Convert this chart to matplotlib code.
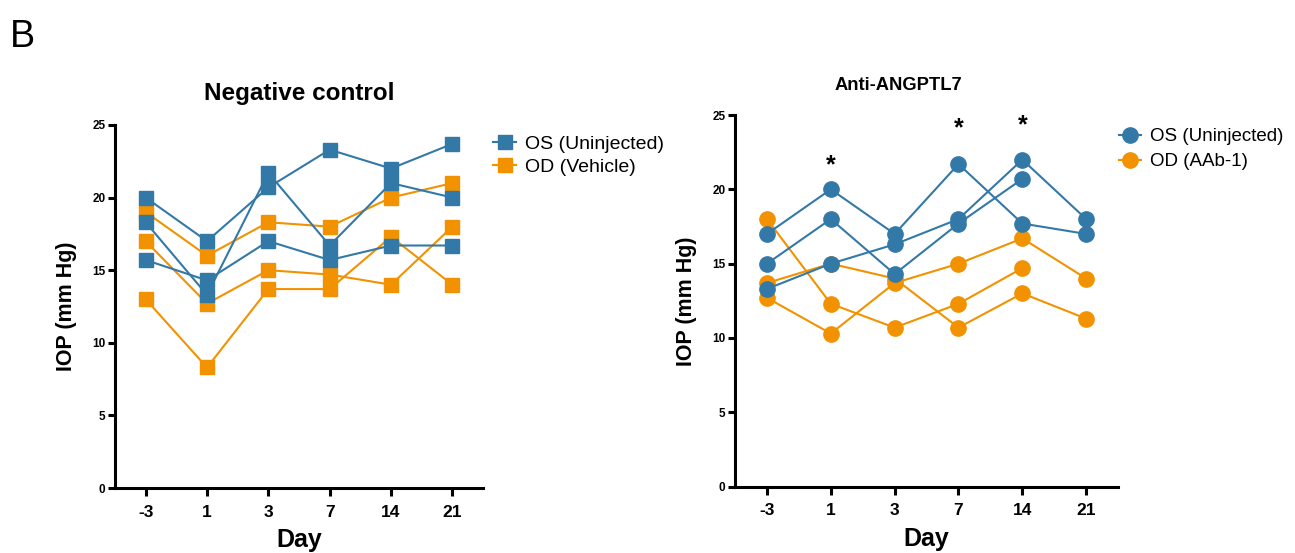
import numpy as np
import matplotlib
matplotlib.use('Agg')
import matplotlib.pyplot as plt

plt.rcParams['font.family'] = ['Liberation Sans', 'DejaVu Sans']

days = ['-3', '1', '3', '7', '14', '21']

# Negative control: each list is one eye / animal
neg_os = [[20.0, 17.0, 20.7, 23.3, 22.0, 23.7],
          [18.3, 13.3, 21.7, 16.7, 21.0, 20.0],
          [15.7, 14.3, 17.0, 15.7, 16.7, 16.7]]
neg_od = [[19.0, 16.0, 18.3, 18.0, 20.0, 21.0],
          [17.0, 12.7, 15.0, 14.7, 14.0, 18.0],
          [13.0, 8.3, 13.7, 13.7, 17.3, 14.0]]

# Anti-ANGPTL7
anti_os = [[17.0, 20.0, 17.0, 21.7, 17.7, 17.0],
           [15.0, 18.0, 14.3, 17.7, 20.7, np.nan],
           [13.3, 15.0, 16.3, 18.0, 22.0, 18.0]]
anti_od = [[18.0, 12.3, 10.7, 12.3, 14.7, np.nan],
           [13.7, 15.0, 14.0, 10.7, 13.0, 11.3],
           [12.7, 10.3, 13.7, 15.0, 16.7, 14.0]]

star_days = [1, 3, 4]
star_y = [21.6, 24.1, 24.3]

blue = '#3379A8'
orange = '#F29200'

fig = plt.figure(figsize=(12.95, 5.53), dpi=100)
ax1 = fig.add_axes([0.0888, 0.1175, 0.2842, 0.6565])
ax2 = fig.add_axes([0.5676, 0.12, 0.2958, 0.672])


def draw(ax, os_rows, od_rows, marker, ms, title, tsize, tx, lab_os, lab_od, leg_x, leg_y, leg_fs, leg_sp):
    x = np.arange(len(days))
    for i, r in enumerate(od_rows):
        ax.plot(x, r, color=orange, marker=marker, ms=ms, lw=1.5,
                label=lab_od if i == 0 else None, zorder=2)
    for i, r in enumerate(os_rows):
        ax.plot(x, r, color=blue, marker=marker, ms=ms, lw=1.5,
                label=lab_os if i == 0 else None, zorder=3)
    ax.set_xlim(-0.5, 5.5)
    ax.set_ylim(0, 25)
    ax.set_xticks(x)
    ax.set_xticklabels(days, fontsize=12.5, fontweight='bold')
    ax.set_yticks([0, 5, 10, 15, 20, 25])
    ax.set_yticklabels(['0', '5', '10', '15', '20', '25'], fontsize=8.5, fontweight='bold')
    for s in ['top', 'right']:
        ax.spines[s].set_visible(False)
    for s in ['left', 'bottom']:
        ax.spines[s].set_linewidth(2.2)
    ax.tick_params(axis='y', width=2.2, length=5, pad=2)
    ax.tick_params(axis='x', width=2.2, length=6, pad=6)
    ax.set_xlabel('Day', fontsize=18, fontweight='bold', labelpad=6)
    ax.set_ylabel('IOP (mm Hg)', fontsize=15.5, fontweight='bold', labelpad=11)
    ax.set_title(title, fontsize=tsize, fontweight='bold', pad=18, x=tx)
    h, l = ax.get_legend_handles_labels()
    ax.legend(h[::-1], l[::-1], loc='upper left', bbox_to_anchor=(leg_x, leg_y),
              frameon=False, fontsize=leg_fs, handlelength=1.2, handletextpad=0.45,
              labelspacing=leg_sp, borderaxespad=0.3)


draw(ax1, neg_os, neg_od, 's', 10.5, 'Negative control', 17.5, 0.5,
     'OS (Uninjected)', 'OD (Vehicle)', 0.99, 1.01, 14, 0.3)
draw(ax2, anti_os, anti_od, 'o', 11, 'Anti-ANGPTL7', 13.2, 0.426,
     'OS (Uninjected)', 'OD (AAb-1)', 0.968, 1.0, 13.5, 0.42)
for d, yv in zip(star_days, star_y):
    ax2.text(d, yv, '*', ha='center', va='center', fontsize=18, fontweight='bold')

fig.text(0.008, 0.965, 'B', fontsize=27, va='top', ha='left')

plt.savefig('out.png', dpi=100)
